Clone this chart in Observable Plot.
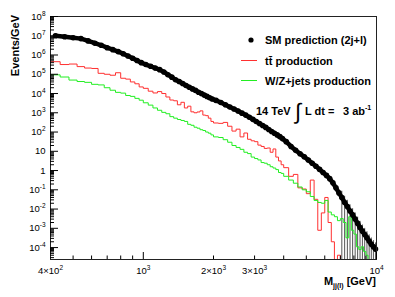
<!DOCTYPE html>
<html><head><meta charset="utf-8">
<script src="https://cdn.jsdelivr.net/npm/d3@7"></script>
<script src="https://cdn.jsdelivr.net/npm/@observablehq/plot@0.6"></script>
<style>
body{margin:0;background:#fff;}
#chart{position:relative;width:395px;height:297px;overflow:hidden;}
svg text{font-family:"Liberation Sans",Arial,Helvetica,sans-serif;}
</style>
</head><body><div id="chart"></div>
<script>
// ---- data ----
const binEdges = [400,440,480,520,560,600,640,680,720,760,800,840,880,920,960,1000,
 1050,1100,1150,1200,1250,1300,1350,1400,1450,1500,1550,1600,1650,1700,1750,1800,1850,1900,1950,2000,
 2100,2200,2300,2400,2500,2600,2700,2800,2900,3000,3100,3200,3300,3400,3500,3600,3700,3800,3900,4000,
 4200,4400,4600,4800,5000,5200,5400,5600,5800,6000,6200,6400,6600,6800,7000,7200,7400,7600,7800,8000,
 8200,8400,8600,8800,9000,9200,9400,9600,9800,10000];

// SM prediction (2j+l), events/GeV per bin
const smValues = [1.0e7,8.9e6,7.9e6,7.1e6,5.4e6,4.1e6,3.2e6,2.4e6,1.9e6,1.5e6,1.17e6,8.9e5,6.8e5,5.2e5,4.0e5,
 3.2e5,2.6e5,2.1e5,1.74e5,1.32e5,9.5e4,7.1e4,5.2e4,4.2e4,3.3e4,2.6e4,2.1e4,1.74e4,1.45e4,1.17e4,1.0e4,8.3e3,7.1e3,6.0e3,5.2e3,
 4.4e3,3.4e3,2.6e3,2.0e3,1.58e3,1.23e3,955,759,589,457,355,275,219,174,135,107,87,71,57.5,45.7,
 31.6,17.8,11.2,7.4,5.25,3.55,2.4,1.66,1.15,0.79,0.56,0.38,0.23,0.126,0.069,0.040,0.022,0.0135,0.0079,0.005,
 0.003,0.0018,0.0011,7.1e-4,4.7e-4,3.2e-4,2.2e-4,1.5e-4,1.1e-4,8.3e-5];

// statistical errors of the SM points in the high-mass tail
const errMass = [7100,7300,7500,7700,7900,8100,8300,8500,8700,8900,9100,9300,9500,9700,9900];
const smErr = [0.044,0.024,0.015,0.0087,0.0055,0.0033,0.002,0.0012,7.8e-4,5.2e-4,3.5e-4,2.4e-4,1.65e-4,1.2e-4,9.1e-5];

// ttbar production
const ttValues = [4.5e5,3.2e5,3.4e5,2.5e5,2.1e5,2.0e5,1.12e5,1.0e5,8.9e4,1.2e5,6.2e4,5.6e4,4.0e4,3.2e4,2.2e4,
 1.86e4,1.32e4,1.07e4,1.26e4,1.0e4,6.6e3,4.6e3,4.2e3,2.6e3,3.5e3,1.78e3,2.2e3,1.12e3,1.0e3,1.1e3,1.26e3,759,708,525,355,
 295,282,316,200,112,141,56,89,42,35,31.6,20.9,17.8,14.1,14.8,8.9,13.2,5.0,3.16,2.0,
 1.41,0.5,0.63,0.126,0.11,0.063,0.32,0.032,7.9e-4,0.0063,0.04,0.002,2.0e-4,0,4.0e-5];

// W/Z+jets production
const wzValues = [9.3e4,7.2e4,5.0e4,4.2e4,3.8e4,3.0e4,2.8e4,2.0e4,1.48e4,1.15e4,1.05e4,7.9e3,7.1e3,5.6e3,4.5e3,
 3.3e3,2.5e3,1.78e3,1.35e3,1.05e3,891,631,525,447,398,355,251,224,178,158,132,120,100,87,71,
 56,52,40,29.5,20,15.8,12.6,8.9,7.6,5.0,4.2,3.55,2.6,2.4,2.0,1.58,1.35,1.12,0.79,0.71,
 0.5,0.32,0.22,0.14,0.1,0.079,0.045,0.028,0.022,0.02,0.028,0.007,0.005,0.004,0.0025,
 0.0032,0.002,3.2e-4,0.004,7.9e-4,5.0e-4,1.1e-4,7.9e-5,1.1e-4,6.3e-5,4.0e-5,0,0,0,0];

const yTickValues = [1e-4,1e-3,1e-2,1e-1,1,10,1e2,1e3,1e4,1e5,1e6,1e7,1e8];
const yTickLabels = ["10^-4","10^-3","10^-2","10^-1","1","10","10^2","10^3","10^4","10^5","10^6","10^7","10^8"];
const xTickValues = [400,1000,2000,3000,10000];
const xTickLabels = ["4×10^2","10^3","2×10^3","3×10^3","10^4"];
const xMinorTicks = [500,600,700,800,900,2000,3000,4000,5000,6000,7000,8000,9000];

// ---- derived tables ----
const yMin = 2.4e-5, yMax = 1e8;
const clampY = v => Math.max(v, yMin);
const centers = binEdges.slice(0, -1).map((e, i) => (e + binEdges[i + 1]) / 2);
const sm = smValues.map((v, i) => ({x: centers[i], y: v}));
function steps(values) {
  const pts = [];
  values.forEach((v, i) => {
    pts.push({x: binEdges[i], y: clampY(v)}, {x: binEdges[i + 1], y: clampY(v)});
  });
  pts.push({x: binEdges[values.length], y: yMin});
  return pts;
}
const ttSteps = steps(ttValues);
const wzSteps = steps(wzValues);
const errBars = errMass.map((m, j) => {
  const i = centers.indexOf(m);
  const v = smValues[i];
  return {x: m, y1: clampY(v - smErr[j]), y2: v + smErr[j]};
});
const yMinor = [];
for (let k = -5; k <= 7; k++) for (let m = 2; m <= 9; m++) {
  const v = m * Math.pow(10, k);
  if (v > yMin && v < yMax) yMinor.push(v);
}
const yLab = new Map(yTickValues.map((v, i) => [v, yTickLabels[i]]));
const xLab = new Map(xTickValues.map((v, i) => [v, xTickLabels[i]]));
const blank = () => "";

const chart = Plot.plot({
  width: 395, height: 297,
  marginLeft: 50, marginRight: 19, marginTop: 16, marginBottom: 38,
  style: {background: "white", fontFamily: "Liberation Sans, Arial, Helvetica, sans-serif", fontSize: "9.5px", color: "black"},
  x: {type: "log", domain: [400, 10000]},
  y: {type: "log", domain: [yMin, yMax]},
  marks: [
    Plot.ruleX(errBars, {x: "x", y1: "y1", y2: "y2", stroke: "#555", strokeWidth: 1}),
    Plot.line(ttSteps, {x: "x", y: "y", stroke: "#ff3030", strokeWidth: 1}),
    Plot.line(wzSteps, {x: "x", y: "y", stroke: "#22ee22", strokeWidth: 1}),
    Plot.line(sm, {x: "x", y: "y", stroke: "black", strokeWidth: 4.5}),
    Plot.dot(sm, {x: "x", y: "y", r: 2.8, fill: "black", stroke: null}),
    Plot.frame({stroke: "#222", strokeWidth: 1}),
    Plot.axisY(yTickValues, {tickSize: 0, tickPadding: 5, tickFormat: d => yLab.get(d), label: null}),
    Plot.axisY(yTickValues, {tickSize: -8, tickFormat: blank, label: null}),
    Plot.axisY(yMinor, {tickSize: -4, tickFormat: blank, label: null}),
    Plot.text(xTickValues, {x: d => d, text: d => xLab.get(d), frameAnchor: "bottom", lineAnchor: "top", dy: 8, fontSize: 9.5}),
    Plot.axisX([1000, 10000], {tickSize: -7, tickFormat: blank, label: null}),
    Plot.axisX(xMinorTicks, {tickSize: -3.5, tickFormat: blank, label: null})
  ]
});
document.getElementById("chart").appendChild(chart);

// superscript rendering for "a^b" tick labels
const svg = d3.select(chart);
svg.selectAll("text").each(function() {
  const s = this.textContent;
  const m = s.match(/^(.*)\^(.+)$/);
  if (!m) return;
  const t = d3.select(this);
  t.text("");
  t.append("tspan").text(m[1]);
  t.append("tspan").attr("dy", -4).attr("font-size", "6.5px").text(m[2]);
});

// axis titles
const F = "Liberation Sans, Arial, Helvetica, sans-serif";
svg.append("text").attr("transform", "translate(18.5,15) rotate(-90)")
  .attr("text-anchor", "end").attr("font-family", F).attr("font-weight", "bold").attr("font-size", 11)
  .text("Events/GeV");
const xt = svg.append("text").attr("x", 376).attr("y", 285).attr("text-anchor", "end")
  .attr("font-family", F).attr("font-weight", "bold").attr("font-size", 11);
xt.append("tspan").text("M");
xt.append("tspan").attr("font-size", 7).attr("dy", 3).text("jj(l)");
xt.append("tspan").attr("dy", -3).text(" [GeV]");

// legend
const lg = svg.append("g").attr("font-family", F).attr("font-weight", "bold").attr("font-size", 11)
  .attr("text-anchor", "start");
lg.append("circle").attr("cx", 251).attr("cy", 40).attr("r", 2.6).attr("fill", "black");
lg.append("text").attr("x", 265).attr("y", 44).text("SM prediction (2j+l)");
lg.append("line").attr("x1", 241).attr("x2", 257).attr("y1", 60.5).attr("y2", 60.5).attr("stroke", "#ff3030");
lg.append("text").attr("x", 265).attr("y", 64.5).text("t\u0074\u0304 production");
lg.append("line").attr("x1", 241).attr("x2", 257).attr("y1", 80.5).attr("y2", 80.5).attr("stroke", "#22ee22");
lg.append("text").attr("x", 265).attr("y", 85).text("W/Z+jets production");
// luminosity annotation
lg.append("text").attr("x", 256).attr("y", 115).text("14 TeV");
lg.append("text").attr("x", 295).attr("y", 119).attr("font-weight", "normal").attr("font-size", 22).text("∫");
lg.append("text").attr("x", 305).attr("y", 115).text("L dt =");
const ab = lg.append("text").attr("x", 343).attr("y", 115);
ab.append("tspan").text("3 ab");
ab.append("tspan").attr("dy", -5).attr("font-size", 7).text("-1");
</script>
</body></html>
